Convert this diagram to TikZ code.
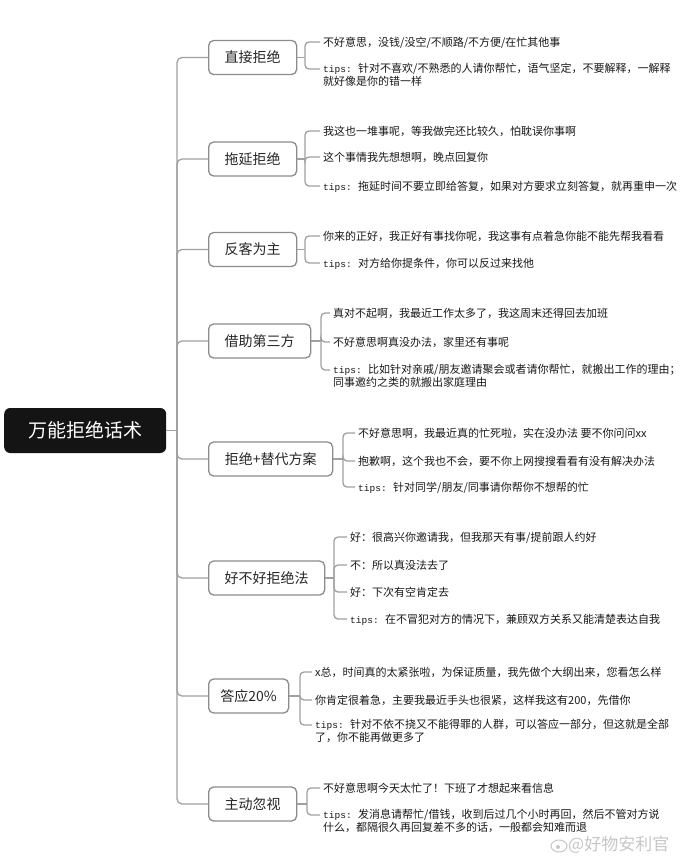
\documentclass[tikz,border=0pt]{standalone}
\usepackage{fontspec}
\setmainfont{Noto Sans CJK SC}
\newfontfamily\monof{Liberation Mono}
\newcommand\tipsp{\makebox[35pt][l]{\monof\fontsize{9.5}{12.5}\selectfont tips:}}
\definecolor{linegray}{HTML}{A0A0A0}
\definecolor{boxgray}{HTML}{8C8C8C}
\begin{document}
\begin{tikzpicture}[x=1pt,y=-1pt,
  conn/.style={draw=linegray, line width=1.3pt, rounded corners=5pt},
  branch/.style={draw=boxgray, line width=1.3pt, rounded corners=5pt, fill=white,
    minimum height=34pt, inner xsep=0pt, anchor=west,
    font=\fontsize{14}{16}\selectfont, text=black!85},
  leaf/.style={inner sep=0pt, anchor=north west, yshift=5.8pt, align=left,
    font=\fontsize{11}{12.5}\selectfont, text=black!90,
    execute at begin node=\rule{0pt}{10pt}},
]
\fill[white] (0,0) rectangle (690,863);
\useasboundingbox (0,0) rectangle (690,863);

% root
\node[fill=black!92, rounded corners=6pt, minimum width=162pt, minimum height=45pt,
  anchor=west, text=white, inner sep=0pt, font=\fontsize{19}{22}\selectfont]
  (root) at (4,430.5) {万能拒绝话术};
\coordinate (tr) at (177,430.5);

% branches
\node[branch, minimum width=88pt]  (b1) at (208,57.5)  {直接拒绝};
\node[branch, minimum width=88pt]  (b2) at (208,159)   {拖延拒绝};
\node[branch, minimum width=88pt]  (b3) at (208,249.5) {反客为主};
\node[branch, minimum width=102pt] (b4) at (208,341)   {借助第三方};
\node[branch, minimum width=124pt] (b5) at (208,459)   {拒绝+替代方案};
\node[branch, minimum width=116pt] (b6) at (208,578)   {好不好拒绝法};
\node[branch, minimum width=80pt]  (b7) at (208,696)   {答应20\%};
\node[branch, minimum width=88pt]  (b8) at (208,804)   {主动忽视};

% bracket joints
\coordinate (k1) at (305,57.5);
\coordinate (k2) at (305,159);
\coordinate (k3) at (305,249.5);
\coordinate (k4) at (321,341);
\coordinate (k5) at (343,459);
\coordinate (k6) at (334,578);
\coordinate (k7) at (300,696);
\coordinate (k8) at (307,804);

% leaves
\node[leaf] (l11) at (323,42) {不好意思，没钱/没空/不顺路/不方便/在忙其他事};
\node[leaf] (l12) at (323,69) {\tipsp 针对不喜欢/不熟悉的人请你帮忙，语气坚定，不要解释，一解释\\就好像是你的错一样};

\node[leaf] (l21) at (323,131) {我这也一堆事呢，等我做完还比较久，怕耽误你事啊};
\node[leaf] (l22) at (323,157) {这个事情我先想想啊，晚点回复你};
\node[leaf] (l23) at (323,186) {\tipsp 拖延时间不要立即给答复，如果对方要求立刻答复，就再重申一次};

\node[leaf] (l31) at (323,236) {你来的正好，我正好有事找你呢，我这事有点着急你能不能先帮我看看};
\node[leaf] (l32) at (323,263) {\tipsp 对方给你提条件，你可以反过来找他};

\node[leaf] (l41) at (333,313) {真对不起啊，我最近工作太多了，我这周末还得回去加班};
\node[leaf] (l42) at (333,342) {不好意思啊真没办法，家里还有事呢};
\node[leaf] (l43) at (333,370) {\tipsp 比如针对亲戚/朋友邀请聚会或者请你帮忙，就搬出工作的理由；\\同事邀约之类的就搬出家庭理由};

\node[leaf] (l51) at (358,433) {不好意思啊，我最近真的忙死啦，实在没办法 要不你问问xx};
\node[leaf] (l52) at (358,461) {抱歉啊，这个我也不会，要不你上网搜搜看看有没有解决办法};
\node[leaf] (l53) at (358,487) {\tipsp 针对同学/朋友/同事请你帮你不想帮的忙};

\node[leaf] (l61) at (350,537) {好：很高兴你邀请我，但我那天有事/提前跟人约好};
\node[leaf] (l62) at (350,565) {不：所以真没法去了};
\node[leaf] (l63) at (350,592) {好：下次有空肯定去};
\node[leaf] (l64) at (350,619) {\tipsp 在不冒犯对方的情况下，兼顾双方关系又能清楚表达自我};

\node[leaf] (l71) at (315,672) {x总，时间真的太紧张啦，为保证质量，我先做个大纲出来，您看怎么样};
\node[leaf] (l72) at (315,700) {你肯定很着急，主要我最近手头也很紧，这样我这有200，先借你};
\node[leaf] (l73) at (315,725) {\tipsp 针对不依不挠又不能得罪的人群，可以答应一部分，但这就是全部\\了，你不能再做更多了};

\node[leaf] (l81) at (323,788) {不好意思啊今天太忙了！下班了才想起来看信息};
\node[leaf] (l82) at (323,815) {\tipsp 发消息请帮忙/借钱，收到后过几个小时再回，然后不管对方说\\什么，都隔很久再回复差不多的话，一般都会知难而退};

% connectors
\draw[conn] (root.east) -- (tr);
\foreach \b in {b1,b2,b3,b4,b5,b6,b7,b8}
  \draw[conn] (tr) |- (\b.west);
\foreach \b/\k in {b1/k1,b2/k2,b3/k3,b4/k4,b5/k5,b6/k6,b7/k7,b8/k8}
  \draw[conn] (\b.east) -- (\k);
\foreach \k/\l in {k1/l11,k1/l12,k2/l21,k2/l22,k2/l23,k3/l31,k3/l32,
  k4/l41,k4/l42,k4/l43,k5/l51,k5/l52,k5/l53,k6/l61,k6/l62,k6/l63,k6/l64,
  k7/l71,k7/l72,k7/l73,k8/l81,k8/l82}
  \draw[conn, rounded corners=4pt] (\k) |- ([xshift=-3pt,yshift=-5.8pt]\l.north west);

% watermark
\draw[black!22, line width=1pt] (559,846) ellipse (8pt and 6pt);
\fill[black!22] (558,847) circle (2pt);
\node[anchor=west, inner sep=0pt, text=black!22, font=\fontsize{17}{19}\selectfont]
  (wm) at (568,845) {@好物安利官};
\end{tikzpicture}
\end{document}
